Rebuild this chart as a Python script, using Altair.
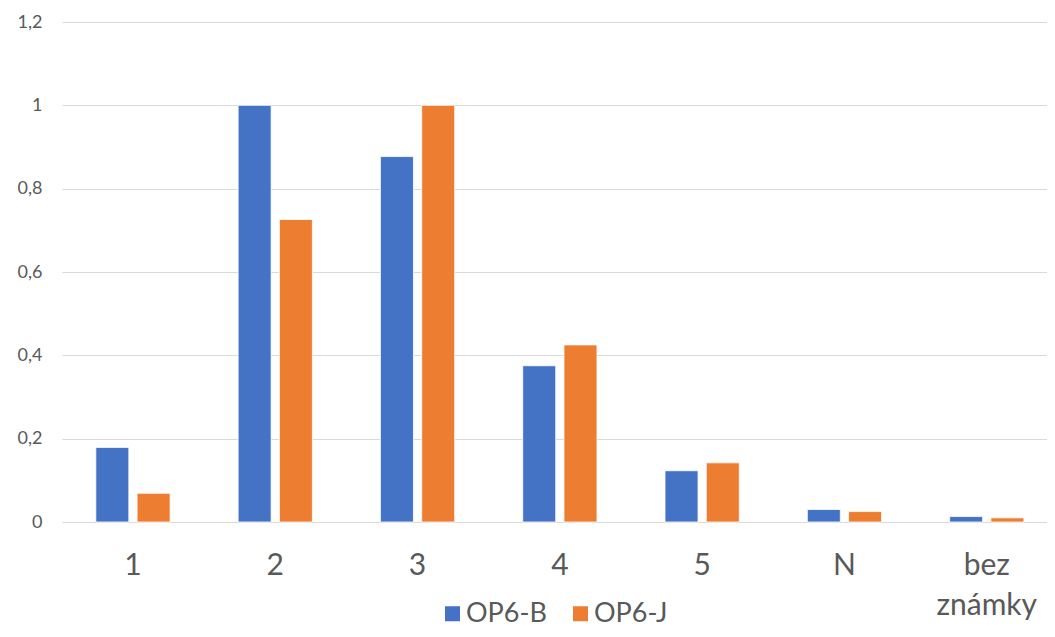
import altair as alt
import pandas as pd

categories = ["1", "2", "3", "4", "5", "N", "bez známky"]
series_names = ["OP6-B", "OP6-J"]
op6_b = [0.179, 1.0, 0.877, 0.375, 0.123, 0.030, 0.013]
op6_j = [0.069, 0.726, 1.0, 0.425, 0.142, 0.025, 0.010]
colors = ["#4472C4", "#ED7D31"]
y_ticks = [0, 0.2, 0.4, 0.6, 0.8, 1.0, 1.2]

rows = []
for c, b, j in zip(categories, op6_b, op6_j):
    rows.append({"kat": c, "serie": series_names[0], "hodnota": b})
    rows.append({"kat": c, "serie": series_names[1], "hodnota": j})
df = pd.DataFrame(rows)

FONT = "Lato"
TXT = "#595959"

chart = alt.Chart(df).mark_bar(stroke="white", strokeWidth=0.8).encode(
    x=alt.X(
        "kat:N",
        sort=categories,
        title=None,
        scale=alt.Scale(paddingInner=0.42, paddingOuter=0.171, align=0.61),
        axis=alt.Axis(
            labelAngle=0,
            labelFontSize=30,
            labelColor=TXT,
            labelFont=FONT,
            labelPadding=28,
            labelLineHeight=40,
            ticks=False,
            tickSize=0,
            domain=False,
            grid=False,
            labelExpr="datum.label == 'bez známky' ? ['bez', 'známky'] : datum.label",
        ),
    ),
    xOffset=alt.XOffset(
        "serie:N",
        sort=series_names,
        scale=alt.Scale(paddingInner=0.2, paddingOuter=0.1),
    ),
    y=alt.Y(
        "hodnota:Q",
        title=None,
        scale=alt.Scale(domain=[0, 1.2], nice=False),
        axis=alt.Axis(
            values=y_ticks,
            labelFontSize=18,
            labelColor=TXT,
            labelFont=FONT,
            labelPadding=20,
            ticks=False,
            tickSize=0,
            domain=False,
            gridColor="#D9D9D9",
            gridWidth=1.2,
            labelExpr="replace(format(datum.value, '~g'), '.', ',')",
        ),
    ),
    color=alt.Color(
        "serie:N",
        sort=series_names,
        scale=alt.Scale(domain=series_names, range=colors),
        legend=alt.Legend(
            title=None,
            orient="none",
            direction="horizontal",
            legendX=377,
            legendY=578,
            symbolType="square",
            symbolSize=225,
            symbolStrokeWidth=0,
            labelFontSize=27,
            labelFont=FONT,
            labelColor=TXT,
            labelOffset=0,
            columnPadding=20,
        ),
    ),
).properties(
    width=985,
    height=500,
    autosize=alt.AutoSizeParams(type="none"),
    padding={"left": 54, "top": 14, "right": 0, "bottom": 107},
).configure_view(stroke=None)

chart.save("out.html", embed_options={"renderer": "svg", "actions": False})
